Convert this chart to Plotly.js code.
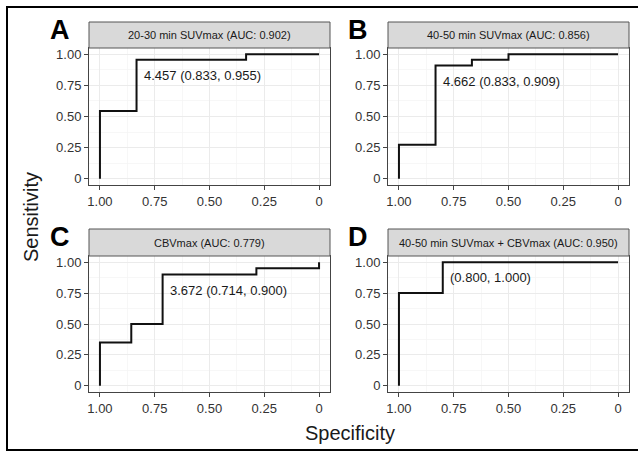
<!DOCTYPE html>
<html>
<head>
<meta charset="utf-8">
<script src="https://cdn.plot.ly/plotly-3.0.1.min.js"></script>
<style>html,body{margin:0;padding:0;background:#fff;}#chart{width:638px;height:457px;}</style>
</head>
<body>
<div id="chart"></div>
<script>
// ---- data ----
const panelLetters = ['A', 'B', 'C', 'D'];
const stripTitles = ['20-30 min SUVmax (AUC: 0.902)', '40-50 min SUVmax (AUC: 0.856)', 'CBVmax (AUC: 0.779)', '40-50 min SUVmax + CBVmax (AUC: 0.950)'];
const specA = [1, 1, 0.833, 0.833, 0.333, 0.333, 0];
const sensA = [0, 0.545, 0.545, 0.955, 0.955, 1, 1];
const specB = [1, 1, 0.833, 0.833, 0.667, 0.667, 0.5, 0.5, 0];
const sensB = [0, 0.273, 0.273, 0.909, 0.909, 0.955, 0.955, 1, 1];
const specC = [1, 1, 0.857, 0.857, 0.714, 0.714, 0.286, 0.286, 0, 0];
const sensC = [0, 0.35, 0.35, 0.5, 0.5, 0.9, 0.9, 0.95, 0.95, 1];
const specD = [1, 1, 0.8, 0.8, 0];
const sensD = [0, 0.75, 0.75, 1, 1];
const cutSpec = [0.833, 0.833, 0.714, 0.8];
const cutSens = [0.955, 0.909, 0.9, 1.0];
const cutLabels = ['4.457 (0.833, 0.955)', '4.662 (0.833, 0.909)', '3.672 (0.714, 0.900)', '(0.800, 1.000)'];
const tickVals = [1, 0.75, 0.5, 0.25, 0];
const tickText = ['1.00', '0.75', '0.50', '0.25', '0'];
const xTitle = 'Specificity';
const yTitle = 'Sensitivity';

// ---- layout helpers ----
const W = 638, H = 457;
const fx = p => p / W;
const fy = p => 1 - p / H;
const FONT = 'Liberation Sans, Arial, sans-serif';
// panel pixel boxes [left, right, top, bottom] and strip top
const boxes = [
  {l: 89, r: 330, t: 48, b: 185, st: 22, lx: 60, ly: 30},
  {l: 388, r: 629, t: 48, b: 185, st: 22, lx: 358, ly: 30},
  {l: 89, r: 330, t: 256, b: 392, st: 229, lx: 60, ly: 237},
  {l: 388, r: 629, t: 256, b: 392, st: 229, lx: 358, ly: 237}
];
const specs = [specA, specB, specC, specD];
const senss = [sensA, sensB, sensC, sensD];

const data = [];
const layout = {
  width: W, height: H,
  margin: {l: 0, r: 0, t: 0, b: 0},
  paper_bgcolor: '#fff', plot_bgcolor: '#fff',
  showlegend: false,
  font: {family: FONT, color: '#333'},
  shapes: [], annotations: []
};

boxes.forEach((b, i) => {
  const n = i === 0 ? '' : String(i + 1);
  data.push({
    x: specs[i], y: senss[i], type: 'scatter', mode: 'lines',
    xaxis: 'x' + n, yaxis: 'y' + n,
    line: {color: '#111', width: 2}, hoverinfo: 'skip'
  });
  const gridCommon = {
    showline: true, mirror: true, linecolor: '#444', linewidth: 1,
    ticks: 'outside', ticklen: 4, tickcolor: '#444', tickwidth: 1,
    tickvals: tickVals, ticktext: tickText,
    tickfont: {family: FONT, size: 13, color: '#333'},
    showgrid: true, gridcolor: '#EBEBEB', gridwidth: 1,
    minor: {dtick: 0.125, tick0: 0, showgrid: true, gridcolor: '#F3F3F3', gridwidth: 0.7, ticks: ''},
    zeroline: false, fixedrange: true
  };
  layout['xaxis' + n] = Object.assign({}, gridCommon, {
    domain: [fx(b.l), fx(b.r)], range: [1.05, -0.05], anchor: 'y' + n
  });
  layout['yaxis' + n] = Object.assign({}, gridCommon, {
    domain: [fy(b.b), fy(b.t)], range: [-0.05, 1.05], anchor: 'x' + n
  });
  // strip
  layout.shapes.push({
    type: 'rect', xref: 'paper', yref: 'paper',
    x0: fx(b.l), x1: fx(b.r), y0: fy(b.t), y1: fy(b.st),
    fillcolor: '#D9D9D9', line: {color: '#555', width: 1}, layer: 'above'
  });
  layout.annotations.push({
    xref: 'paper', yref: 'paper', x: fx((b.l + b.r) / 2), y: fy((b.st + b.t) / 2),
    text: stripTitles[i], showarrow: false, xanchor: 'center', yanchor: 'middle',
    font: {family: FONT, size: 11, color: '#1a1a1a'}
  });
  // panel letter
  layout.annotations.push({
    xref: 'paper', yref: 'paper', x: fx(b.lx), y: fy(b.ly),
    text: '<b>' + panelLetters[i] + '</b>', showarrow: false, xanchor: 'center', yanchor: 'middle',
    font: {family: FONT, size: 27, color: '#000'}
  });
  // cutoff label
  layout.annotations.push({
    xref: 'x' + n, yref: 'y' + n, x: cutSpec[i], y: cutSens[i],
    text: cutLabels[i], showarrow: false, xanchor: 'left', yanchor: 'top',
    xshift: 5, yshift: -6,
    font: {family: FONT, size: 13, color: '#1a1a1a'}
  });
});

// axis titles
layout.annotations.push({
  xref: 'paper', yref: 'paper', x: fx(350), y: fy(433), text: xTitle, showarrow: false,
  xanchor: 'center', yanchor: 'middle', font: {family: FONT, size: 20, color: '#1a1a1a'}
});
layout.annotations.push({
  xref: 'paper', yref: 'paper', x: fx(31), y: fy(217), text: yTitle, showarrow: false,
  textangle: -90, xanchor: 'center', yanchor: 'middle', font: {family: FONT, size: 20, color: '#1a1a1a'}
});

// outer frame (left, top, bottom)
layout.shapes.push({type: 'line', xref: 'paper', yref: 'paper', x0: fx(7), x1: fx(7), y0: fy(6), y1: fy(451), line: {color: '#000', width: 2}});
layout.shapes.push({type: 'line', xref: 'paper', yref: 'paper', x0: fx(6), x1: 1, y0: fy(7), y1: fy(7), line: {color: '#000', width: 2}});
layout.shapes.push({type: 'line', xref: 'paper', yref: 'paper', x0: fx(6), x1: 1, y0: fy(450), y1: fy(450), line: {color: '#000', width: 2}});

Plotly.newPlot('chart', data, layout, {displayModeBar: false, staticPlot: true});
</script>
</body>
</html>
